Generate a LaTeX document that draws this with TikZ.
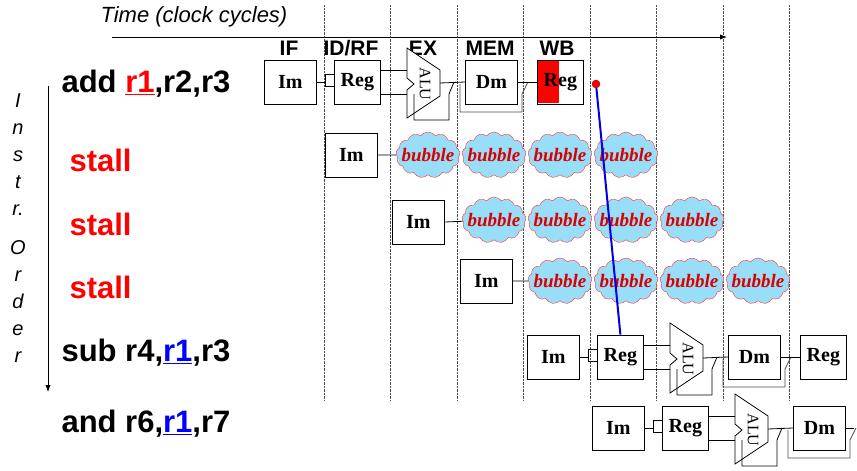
\documentclass[tikz,border=0pt]{standalone}
\usepackage{fontspec}
\setmainfont{Liberation Serif}
\newfontfamily\sans{Liberation Sans}
\usetikzlibrary{shapes.symbols,arrows.meta}
\tikzset{
 box/.style={draw,thick,minimum width=52pt,minimum height=44pt,inner sep=0pt,font=\bfseries\fontsize{20}{20}\selectfont},
 regb/.style={box,minimum width=46pt},
 wire/.style={thick},
 bub/.style={cloud,cloud puffs=13,cloud puff arc=110,aspect=1.3,draw=red!80,fill=cyan!40,minimum width=64pt,minimum height=46pt,inner sep=0pt,
   label={[font=\bfseries\itshape\fontsize{19}{19}\selectfont,text=red!85!black,inner sep=0pt]center:bubble}},
 lab/.style={anchor=west,font=\sans\bfseries\fontsize{31}{31}\selectfont},
 stg/.style={font=\sans\bfseries\fontsize{21}{21}\selectfont},
 grid/.style={densely dotted,black!70},
}
\newcommand\pipestage[4]{%
 \node[box,anchor=west] (#3im) at (#1,#2) {Im};
 \node[regb,anchor=west] (#3reg) at (#1+70,#2) {Reg};
 \draw[wire,fill=white] (#1+143,#2-34) -- (#1+176,#2-12) -- (#1+176,#2+14) -- (#1+143,#2+36) -- (#1+143,#2+8) -- (#1+150,#2+2) -- (#1+143,#2-4) -- cycle;
 \coordinate (#3alu) at (#1+176,#2+1);
 \node[rotate=-90,font=\fontsize{16}{16}\selectfont] at (#1+161,#2+2) {ALU};
 \draw[wire] (#3im.east) -- (#1+61,#2) (#1+61,#2-8) -- (#1+61,#2+4) (#1+61,#2-8) -- (#1+70,#2-8) (#1+61,#2+4) -- (#1+70,#2+4);
 \draw[wire] (#1+116,#2-12) -- (#1+143,#2-12);
 \draw[wire] (#1+116,#2+12) -- (#1+143,#2+12);
 \draw[wire] (#1+150,#2+12) -- (#1+150,#2+38) -- (#1+185,#2+38) -- (#1+185,#2+12) -- (#1+190,#2);
 \draw[black!70,thick] (#1+196,#2+2) |- (#1+258,#2+30) -- (#1+258,#2+12) -- (#1+264,#2);
 \node[box,anchor=west,fill=white] (#3dm) at (#1+201,#2) {Dm};
 \draw[wire] (#3alu) -- (#3dm.west);
 \ifnum#4=1
  \node[regb,anchor=west] (#3wb) at (#1+273,#2) {Reg};
  \draw[wire] (#3dm.east) -- (#3wb.west);
 \else
  \draw[wire] (#3dm.east) -- ++(8,0);
 \fi
}
\begin{document}
\begin{tikzpicture}[x=1pt,y=-1pt]
\useasboundingbox (0,0) rectangle (857,471);
\foreach \gx in {324,390,457,523,590,656,723,789}
  \draw[grid] (\gx,5) -- (\gx,400);
\node[anchor=west,font=\sans\itshape\fontsize{22}{22}\selectfont] (time) at (97,17) {Time (clock cycles)};
\coordinate (t0) at (112,37); \coordinate (t1) at (727,37);
\draw[thick,-{Latex[length=7pt]}] (t0) -- (t1);
\node[stg] (sIF) at (289,48) {IF};
\node[stg] (sID) at (351,48) {ID/RF};
\node[stg] (sEX) at (423,48) {EX};
\node[stg] (sMEM) at (490,48) {MEM};
\node[stg] (sWB) at (557,48) {WB};
% row 1
\fill[red] (538,61) rectangle (559,103);
\pipestage{264}{82}{a}{1}
% stalls
\node[box,anchor=west] (s1im) at (325,155) {Im};
\foreach \i/\bx in {1/428,2/494,3/560,4/626} \node[bub] (b1\i) at (\bx,155) {};
\draw[wire] (s1im.east) -- (b11);
\node[box,anchor=west] (s2im) at (392,222) {Im};
\foreach \i/\bx in {1/494,2/560,3/626,4/692} \node[bub] (b2\i) at (\bx,220) {};
\draw[wire] (s2im.east) -- (b21);
\node[box,anchor=west] (s3im) at (460,281) {Im};
\foreach \i/\bx in {1/560,2/626,3/692,4/758} \node[bub] (b3\i) at (\bx,281) {};
\draw[wire] (s3im.east) -- (b31);
% sub, and
\pipestage{527}{357}{b}{1}
\pipestage{592}{428}{c}{0}
% forwarding
\node[circle,fill=red,draw=red!60!black,inner sep=0pt,minimum size=8pt] (dot) at (596,84) {};
\draw[blue!90!black,line width=2pt] (dot) -- (breg.north);
% labels
\node[lab] (l1) at (58,84) {add \textcolor{red}{\underline{r1}},r2,r3};
\node[lab,text=red] (l2) at (66,160) {stall};
\node[lab,text=red] (l3) at (66,224) {stall};
\node[lab,text=red] (l4) at (66,287) {stall};
\node[lab] (l5) at (58,353) {sub r4,\textcolor{blue}{\underline{r1}},r3};
\node[lab] (l6) at (58,424) {and r6,\textcolor{blue}{\underline{r1}},r7};
\node[align=center,font=\sans\itshape\fontsize{20}{27}\selectfont] (io) at (18,228) {I\\n\\s\\t\\r.\\[12pt]O\\r\\d\\e\\r};
\coordinate (o0) at (48,86); \coordinate (o1) at (48,392);
\draw[thick,-{Latex[length=7pt]}] (o0) -- (o1);
\end{tikzpicture}
\end{document}
